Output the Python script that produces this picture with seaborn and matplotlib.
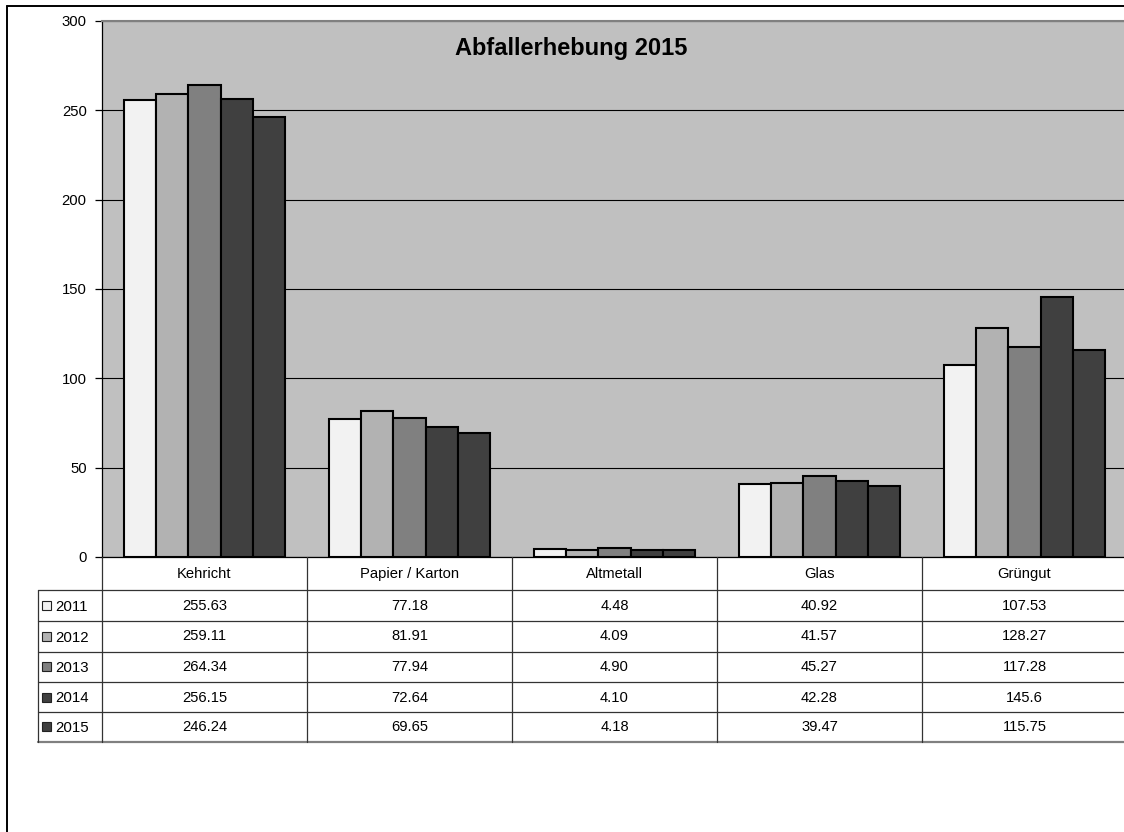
import matplotlib
matplotlib.use("Agg")
import matplotlib.pyplot as plt
import seaborn as sns
import pandas as pd
from matplotlib.lines import Line2D
from matplotlib.patches import Rectangle
from matplotlib.transforms import blended_transform_factory

categories = ["Kehricht", "Papier / Karton", "Altmetall", "Glas", "Grüngut"]
years = ["2011", "2012", "2013", "2014", "2015"]
v2011 = [255.63, 77.18, 4.48, 40.92, 107.53]
v2012 = [259.11, 81.91, 4.09, 41.57, 128.27]
v2013 = [264.34, 77.94, 4.90, 45.27, 117.28]
v2014 = [256.15, 72.64, 4.10, 42.28, 145.6]
v2015 = [246.24, 69.65, 4.18, 39.47, 115.75]
table_labels = [
    ["255.63", "77.18", "4.48", "40.92", "107.53"],
    ["259.11", "81.91", "4.09", "41.57", "128.27"],
    ["264.34", "77.94", "4.90", "45.27", "117.28"],
    ["256.15", "72.64", "4.10", "42.28", "145.6"],
    ["246.24", "69.65", "4.18", "39.47", "115.75"],
]
colors = ["#F2F2F2", "#B2B2B2", "#808080", "#404040", "#404040"]
yticks = [0, 50, 100, 150, 200, 250, 300]
title = "Abfallerhebung 2015"

series = [v2011, v2012, v2013, v2014, v2015]
rows = []
for y, vals in zip(years, series):
    for c, v in zip(categories, vals):
        rows.append({"cat": c, "year": y, "val": v})
df = pd.DataFrame(rows)

sns.set_theme(style="white")
plt.rcParams["font.family"] = ["Liberation Sans", "DejaVu Sans"]

W, H = 1124, 832
fig = plt.figure(figsize=(W / 100, H / 100), dpi=100)

def fx(p):
    return p / W

def fy(p):
    return 1 - p / H

left, right, top, bottom = 102, 1127, 21, 557
ax = fig.add_axes([fx(left), fy(bottom), fx(right - left), (bottom - top) / H])
ax.set_facecolor("#C0C0C0")

sns.barplot(data=df, x="cat", y="val", hue="year", order=categories,
            hue_order=years, palette=colors, width=0.785, edgecolor="black",
            linewidth=1.5, saturation=1, legend=False, ax=ax, zorder=3)

ax.set_xlim(-0.5, len(categories) - 0.5)
ax.set_ylim(0, 300)
ax.set_yticks(yticks)
ax.set_yticklabels([str(t) for t in yticks], fontsize=10.7, color="black")
ax.tick_params(axis="y", direction="out", length=5, width=0.9, color="black",
               pad=6, left=True)
ax.set_xticks([])
ax.set_xlabel("")
ax.set_ylabel("")
ax.yaxis.grid(True, color="black", linewidth=0.8, zorder=1)
ax.set_axisbelow(True)
for s in ["left", "bottom"]:
    ax.spines[s].set_color("black")
    ax.spines[s].set_linewidth(0.9)
ax.spines["top"].set_color("#808080")
ax.spines["top"].set_linewidth(1.5)
ax.spines["right"].set_visible(False)

ax.text(0.458, 0.948, title, transform=ax.transAxes, ha="center", va="center",
        fontsize=17, fontweight="bold", color="black")

# outer chart frame
fig.add_artist(Line2D([fx(7), fx(7)], [fy(6), fy(H + 5)], transform=fig.transFigure,
                      color="black", linewidth=1.4))
fig.add_artist(Line2D([fx(7), fx(W + 5)], [fy(6), fy(6)], transform=fig.transFigure,
                      color="black", linewidth=1.4))

# data table
bt = blended_transform_factory(ax.transData, fig.transFigure)
row_y = [557, 590, 620.5, 651.5, 682, 712, 741.5]
tab_left = 38
tab_right = W + 5

for i, yy in enumerate(row_y[1:]):
    last = i == len(row_y) - 2
    fig.add_artist(Line2D([fx(tab_left), fx(tab_right)], [fy(yy), fy(yy)],
                          transform=fig.transFigure,
                          color="#808080" if last else "#333333",
                          linewidth=1.6 if last else 0.9))
fig.add_artist(Line2D([fx(tab_left), fx(tab_left)], [fy(row_y[1]), fy(row_y[-1])],
                      transform=fig.transFigure, color="#333333", linewidth=0.9))
for k in range(len(categories) + 1):
    xk = k - 0.5
    fig.add_artist(Line2D([xk, xk], [fy(row_y[0]), fy(row_y[-1])], transform=bt,
                          color="#333333", linewidth=0.9))

hy = (row_y[0] + row_y[1]) / 2
for i, c in enumerate(categories):
    fig.text(i, fy(hy - 1), c, transform=bt, ha="center", va="center_baseline",
             fontsize=10.6, color="black")

for r, y in enumerate(years):
    cy = (row_y[r + 1] + row_y[r + 2]) / 2
    fig.add_artist(Rectangle((fx(42), fy(cy + 4.5)), fx(9), 9 / H,
                             transform=fig.transFigure, facecolor=colors[r],
                             edgecolor="#222222", linewidth=0.8))
    fig.text(fx(55), fy(cy), y, ha="left", va="center_baseline", fontsize=10.8,
             color="black")
    for i in range(len(categories)):
        fig.text(i, fy(cy - 1), table_labels[r][i], transform=bt, ha="center",
                 va="center_baseline", fontsize=10.6, color="black")

fig.savefig("out.png", dpi=100, facecolor="white")
